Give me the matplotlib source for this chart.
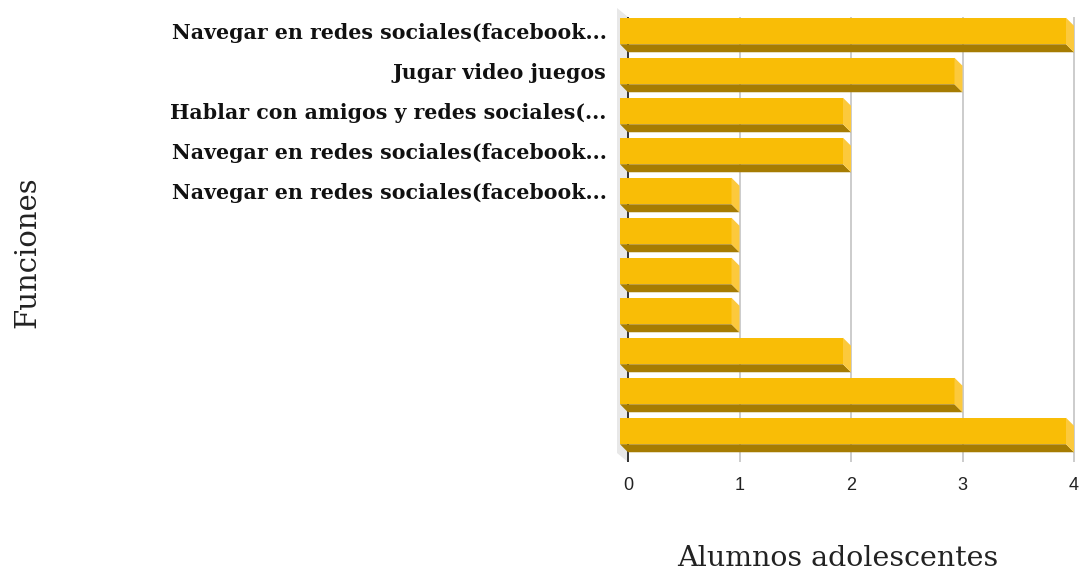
import matplotlib
matplotlib.use("Agg")
import matplotlib.pyplot as plt
from matplotlib.patches import Polygon
import numpy as np

categories = [
    "Navegar en redes sociales(facebook...",
    "Jugar video juegos",
    "Hablar con amigos y redes sociales(...",
    "Navegar en redes sociales(facebook...",
    "Navegar en redes sociales(facebook...",
    "", "", "", "", "", "",
]
values = [4, 3, 2, 2, 1, 1, 1, 1, 2, 3, 4]
x_ticks = [0, 1, 2, 3, 4]
x_title = "Alumnos adolescentes"
y_title = "Funciones"

W, H = 1082, 573
fig = plt.figure(figsize=(W / 100, H / 100), dpi=100)

# axes in pixel geometry
x0_px, x4_px = 628, 1074
top_px, bot_px = 8, 462
ax = fig.add_axes([x0_px / W, (H - bot_px) / H, (x4_px - x0_px) / W, (bot_px - top_px) / H])
xmax = 4
ax.set_xlim(0, xmax)
px_per_unit = (x4_px - x0_px) / xmax
row_px = 40.0
first_center = 31.0
ax.set_ylim((bot_px - first_center) / row_px, (top_px - first_center) / row_px)

dx = 8 / px_per_unit
dy = 8 / row_px
h = 13.25 / row_px

front_c = "#f9bd06"
bottom_c = "#a67c02"
side_c = "#fcc93c"

ylo = (17 - first_center) / row_px
yhi = (bot_px - first_center) / row_px

# back wall
wall = Polygon([(-11 / px_per_unit, (8 - first_center) / row_px),
                (0, (17 - first_center) / row_px),
                (0, yhi),
                (-11 / px_per_unit, (453 - first_center) / row_px)],
               closed=True, facecolor="#e8e8e8", edgecolor="none", clip_on=False, zorder=0)
ax.add_patch(wall)

# gridlines
for t in x_ticks:
    col = "#333333" if t == 0 else "#cccccc"
    ax.plot([t, t], [ylo, yhi], color=col, lw=1.4, zorder=1, solid_capstyle="butt", clip_on=False)

for i, v in enumerate(values):
    front = Polygon([(-dx, i - h), (v - dx, i - h), (v - dx, i + h), (-dx, i + h)],
                    closed=True, facecolor=front_c, edgecolor="none", clip_on=False, zorder=3)
    bottom = Polygon([(-dx, i + h), (v - dx, i + h), (v, i + h + dy), (0, i + h + dy)],
                     closed=True, facecolor=bottom_c, edgecolor="none", clip_on=False, zorder=3)
    side = Polygon([(v - dx, i - h), (v, i - h + dy), (v, i + h + dy), (v - dx, i + h)],
                   closed=True, facecolor=side_c, edgecolor="none", clip_on=False, zorder=3)
    for p in (front, bottom, side):
        ax.add_patch(p)

for s in ax.spines.values():
    s.set_visible(False)

ax.set_xticks(x_ticks)
ax.set_xticklabels([str(t) for t in x_ticks], fontfamily="Liberation Sans", fontsize=13, color="#222222")
ax.tick_params(axis="x", length=0, pad=11)

ax.set_yticks(range(len(categories)))
ax.set_yticklabels(categories, fontfamily="DejaVu Serif", fontweight="bold", fontsize=14.8, color="#111111")
ax.tick_params(axis="y", length=0, pad=15.5)

fig.text(838 / W, 1 - 558 / H, x_title, ha="center", va="center",
         fontfamily="DejaVu Serif", fontsize=20.5, color="#222222")
fig.text(27 / W, 1 - 252 / H, y_title, ha="center", va="center", rotation=90,
         fontfamily="DejaVu Serif", fontsize=21, color="#222222")

fig.savefig("out.png", dpi=100, facecolor="white")
